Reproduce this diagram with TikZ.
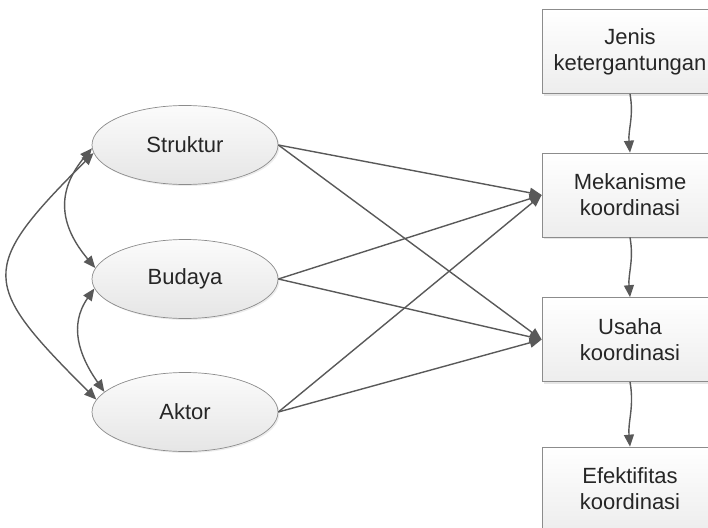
\documentclass[tikz,border=0pt]{standalone}
\usepackage{fontspec}
\setmainfont{Liberation Sans}
\usepackage{tikz}
\usetikzlibrary{arrows.meta, positioning, shapes.geometric, shadows}
\definecolor{linegray}{RGB}{89,89,89}
\definecolor{edgegray}{RGB}{140,140,140}
\definecolor{textgray}{RGB}{38,38,38}
\tikzset{
    factor/.style={ellipse, draw=edgegray, line width=0.7pt, top color=gray!3, bottom color=gray!20, minimum width=186pt, minimum height=79pt, inner sep=0pt, font=\fontsize{22}{26}\selectfont, text=textgray, drop shadow={opacity=0.15, shadow xshift=1.5pt, shadow yshift=-1.5pt}},
    stage/.style={rectangle, draw=edgegray, line width=0.7pt, top color=white, bottom color=gray!14, minimum width=176pt, minimum height=84pt, inner sep=0pt, align=center, font=\fontsize{22}{26}\selectfont, text=textgray, drop shadow={opacity=0.2, shadow xshift=2pt, shadow yshift=-2pt}},
    arrow/.style={line width=1.4pt, draw=linegray, -{Triangle[length=12pt, width=10pt]}},
    dblarrow/.style={line width=1.4pt, draw=linegray, {Triangle[length=12pt, width=10pt]}-{Triangle[length=12pt, width=10pt]}}
}
\begin{document}
\begin{tikzpicture}[x=1pt, y=1pt]
    \useasboundingbox (0,0) rectangle (708,-527);
    \begin{scope}
    \clip (0,0) rectangle (708,-527);
    \node[factor] (str) at (185,-145) {Struktur};
    \node[factor] (bud) at (185,-279) {Budaya};
    \node[factor] (akt) at (185,-412) {Aktor};

    \node[stage] (jen) at (630,-51.5) {Jenis\\ketergantungan};
    \node[stage] (mek) at (630,-195) {Mekanisme\\koordinasi};
    \node[stage] (usa) at (630,-339.5) {Usaha\\koordinasi};
    \node[stage] (efe) at (630,-489) {Efektifitas\\koordinasi};

    \draw[arrow] (str.east) -- (mek.west);
    \draw[arrow] (str.east) -- (usa.west);
    \draw[arrow] (bud.east) -- (mek.west);
    \draw[arrow] (bud.east) -- (usa.west);
    \draw[arrow] (akt.east) -- (mek.west);
    \draw[arrow] (akt.east) -- (usa.west);

    \draw[arrow] (jen.south) to[out=-80, in=95] (mek.north);
    \draw[arrow] (mek.south) to[out=-80, in=95] (usa.north);
    \draw[arrow] (usa.south) to[out=-80, in=95] (efe.north);

    \draw[dblarrow] (str.182) to[out=-130, in=130, looseness=1.2] (bud.173);
    \draw[dblarrow] (bud.186) to[out=-125, in=125, looseness=1.1] (akt.166);
    \draw[dblarrow] (str.185) to[out=-135, in=135, looseness=1.7] (akt.172);
    \end{scope}
\end{tikzpicture}
\end{document}
